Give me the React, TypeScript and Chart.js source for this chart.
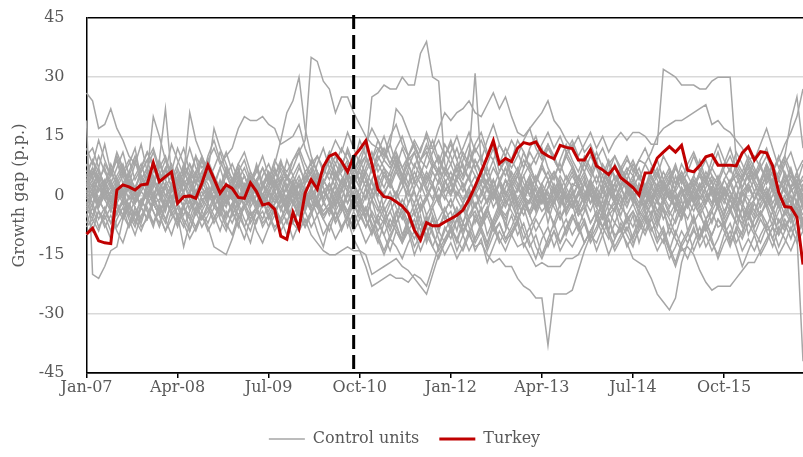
import React, { useEffect, useRef } from 'react';
import { Chart, registerables } from 'chart.js';

Chart.register(...registerables);

const MONTH_NAMES = ['Jan', 'Feb', 'Mar', 'Apr', 'May', 'Jun', 'Jul', 'Aug', 'Sep', 'Oct', 'Nov', 'Dec'];
const START_YEAR = 2007;
const N_MONTHS = 119; // Jan-07 .. Nov-16
const CATEGORIES: string[] = [];
for (let i = 0; i < N_MONTHS; i++) {
  const yr = START_YEAR + Math.floor(i / 12);
  CATEGORIES.push(`${MONTH_NAMES[i % 12]}-${String(yr % 100).padStart(2, '0')}`);
}
const TICK_EVERY = 15; // Jan-07, Apr-08, Jul-09, ...
const Y_MIN = -45;
const Y_MAX = 45;
const Y_STEP = 15;
const TREATMENT_INDEX = 44; // Sep-10

const TURKEY = [
  -9.8, -8.3, -11.5, -12.0, -12.2, 1.4, 2.7, 2.2, 1.4, 2.7,
  2.9, 8.3, 3.5, 4.8, 6.0, -2.0, -0.3, -0.1, -0.7, 3.1,
  7.7, 4.2, 0.6, 2.7, 1.8, -0.5, -0.7, 3.2, 1.0, -2.4,
  -2.0, -3.5, -10.3, -11.1, -4.3, -8.3, 0.6, 4.0, 1.6, 7.3,
  10.0, 10.7, 8.6, 6.0, 9.8, 11.7, 13.9, 8.0, 1.5, -0.3,
  -0.6, -1.6, -2.7, -4.5, -8.8, -11.3, -6.9, -7.7, -7.7, -6.7,
  -5.9, -5.0, -3.7, -1.0, 2.4, 6.0, 9.8, 13.9, 8.1, 9.4,
  8.6, 12.0, 13.4, 13.0, 13.6, 11.0, 10.0, 9.3, 12.7, 12.2,
  11.9, 9.0, 9.0, 11.6, 7.5, 6.5, 5.3, 7.3, 4.5, 3.3,
  2.0, 0.1, 5.7, 5.8, 9.5, 11.0, 12.4, 11.0, 12.7, 6.4,
  6.0, 7.6, 9.8, 10.3, 7.7, 7.7, 7.7, 7.5, 10.8, 12.4,
  9.0, 11.1, 10.8, 7.5, 0.8, -2.8, -3.0, -5.5, -17.5,
];

const CONTROL_01 = [
  26, 24, 17, 18, 22, 17, 14, 10, 8, 6, 9, 12, 7, 10, 5, 3, 8, 4, 6, 2,
  5, 1, 3, -2, 0, 4, 1, 3, -3, 0, -2, 3, 0, 5, 2, -3, 1, 4, 2, -1,
  3, -2, 4, 1, -3, 2, 6, 3, 0, 5, 4, -1, 2, 6, 1, -4, 0, 3, 7, 2,
  0, 5, 3, -2, 1, 4, 2, -3, 0, 4, 2, 5, 0, -2, 3, 7, 4, 6, 1, -1,
  3, 2, 5, 0, -3, 1, 4, -1, 3, 2, -2, 3, 0, 2, 5, 3, -1, -3, 2, 0,
  4, 1, 3, 2, -2, 0, 3, 5, 1, -3, -1, 2, 5, 3, 0, -2, 1, 3, -1,
];
const CONTROL_02 = [
  19, -20, -21, -18, -14, -13, -6, -3, -7, -2, 0, -4, -8, -3, -1, -6, -2, -9, -4, -1,
  -3, -6, -2, -5, -3, 0, -2, -6, -3, -1, -5, -2, 0, -4, -7, -3, -1, -4, -2, -5,
  -3, -6, -2, -8, -4, -1, -6, -9, -5, -7, -4, -8, -11, -6, -9, -5, -12, -8, -6, -3,
  -7, -4, -9, -5, -2, -6, -3, -8, -5, -1, -4, -7, -2, -5, -9, -6, -3, -8, -4, -10,
  -6, -3, -7, -11, -5, -8, -4, -2, -6, -9, -5, -12, -7, -4, -8, -3, -6, -10, -5, -2,
  -7, -4, -9, -6, -3, -8, -11, -5, -7, -4, -8, -5, -2, -6, -9, -4, -7, -3, -6,
];
const CONTROL_03 = [
  4, 7, 3, 8, 5, 10, 6, 9, 4, 7, 11, 8, 5, 9, 6, 12, 8, 5, 10, 7,
  9, 12, 8, 10, 12, 17, 20, 19, 19, 20, 18, 17, 13, 14, 15, 18, 12, 8, 10, 6,
  9, 5, 8, 11, 7, 4, 9, 6, 10, 7, 5, 8, 4, 9, 11, 6, 3, 7, 10, 5,
  8, 12, 7, 4, 9, 6, 10, 13, 8, 5, 9, 6, 11, 7, 4, 8, 12, 9, 6, 10,
  7, 4, 8, 5, 9, 3, 6, 10, 7, 4, 8, 5, 2, 6, 9, 4, 7, 3, 8, 5,
  2, 6, 9, 5, 3, 7, 10, 6, 4, 8, 5, 9, 12, 7, 4, 8, 11, 6, 9,
];
const CONTROL_04 = [
  -3, 1, -2, 2, -4, 0, 3, -1, 1, -3, 2, -1, 4, 0, -2, 3, 1, -4, 0, 2,
  -1, 3, 0, -3, 2, 5, 1, -2, 3, 0, 4, 8, 14, 21, 24, 30, 17, 10, 6, 2,
  -1, -4, -8, -6, -11, -14, -18, -23, -22, -21, -20, -21, -21, -22, -20, -21, -23, -18, -13, -9,
  -6, -3, -7, -2, 1, -4, -1, 2, -3, 0, 3, -2, 1, -5, -1, 2, -3, 0, 4, -2,
  1, -4, 0, 3, -1, -5, 2, -2, 1, 4, 0, -3, 2, -1, -6, -2, 1, -4, 0, 3,
  -2, 1, 4, 0, -3, 2, -1, -5, 1, 3, -1, 2, -3, 0, 4, 1, -2, 3, 0,
];
const CONTROL_05 = [
  2, 5, 1, 4, -1, 3, 6, 2, -2, 1, 4, 0, 3, 7, 2, -1, 4, 1, 5, 2,
  0, 4, 1, -2, 3, 6, 2, -1, 4, 7, 3, 5, 8, 6, 9, 11, 14, 35, 34, 29,
  27, 21, 25, 25, 21, 18, 15, 13, 12, 9, 7, 10, 5, 8, 3, 6, 2, -1, 4, 0,
  -3, 1, -2, -6, -4, -8, -5, -9, -7, -11, -10, -13, -12, -15, -18, -17, -18, -18, -18, -16,
  -16, -15, -12, -9, -6, -8, -4, -7, -3, -5, -2, -6, -3, 0, -4, -1, -5, -2, 1, -3,
  0, -4, -1, 2, -2, -5, 0, -3, 1, -1, -4, 0, -2, 2, -1, -5, -2, 1, -3,
];
const CONTROL_06 = [
  -2, -5, -1, -4, 0, -3, -6, -2, -5, -1, -4, -7, -3, -6, -2, -5, -8, -4, -1, -6,
  -3, -7, -4, -8, -5, -2, -6, -9, -4, -7, -5, -8, -6, -3, -7, -9, -6, -10, -12, -14,
  -15, -15, -14, -13, -14, -14, -15, -20, -19, -18, -17, -16, -18, -19, -21, -23, -25, -20, -15, -12,
  -9, -11, -7, -10, -6, -8, -4, -7, -3, -5, -2, -6, -3, -1, -4, 0, -3, 2, -1, -4,
  1, -2, 3, 0, -3, 2, 5, 1, 4, 7, 5, 9, 8, 11, 15, 17, 18, 19, 19, 20,
  21, 22, 23, 18, 19, 17, 16, 14, 12, 9, 10, 7, 4, 6, 2, 5, 1, 3, 0,
];
const CONTROL_07 = [
  5, 2, 6, 3, 8, 4, 1, 5, 9, 3, 6, 2, 8, 4, 1, 7, 3, 5, 0, 4,
  7, 3, 1, 5, 2, 6, 9, 4, 7, 3, 6, 2, 8, 5, 3, 7, 4, 9, 6, 3,
  7, 10, 6, 9, 5, 8, 10, 25, 26, 28, 27, 27, 30, 28, 28, 36, 39, 30, 29, 8,
  4, 7, 2, 5, 0, 3, -2, 1, -4, -1, 2, -3, 0, -5, -2, 1, -4, -1, -6, -3,
  -1, -5, -2, -7, -4, -8, -5, -3, -9, -6, -4, -7, -10, -6, -9, -12, -8, -11, -14, -13,
  -15, -19, -22, -24, -23, -23, -23, -21, -19, -17, -17, -14, -11, -8, -10, -6, -9, -4, -7,
];
const CONTROL_08 = [
  0, 3, -2, 1, 4, -1, 2, 6, 1, -3, 2, 5, 0, 3, -1, 4, 7, 2, 0, 5,
  3, -1, 2, 6, 1, 4, 0, 3, 7, 2, 5, 1, 4, -2, 3, 0, 5, 2, -1, 4,
  1, 6, 3, 8, 4, 7, 10, 6, 9, 12, 8, 11, 7, 10, 13, 9, 12, 12, 17, 21,
  19, 21, 22, 24, 21, 20, 23, 26, 22, 25, 20, 16, 15, 17, 19, 21, 24, 19, 17, 14,
  12, 15, 11, 13, 9, 12, 8, 10, 6, 9, 7, 4, 8, 5, 2, 6, 3, 7, 4, 1,
  5, 2, 6, 3, 0, 4, 7, 3, 5, 8, 4, 7, 10, 6, 9, 13, 16, 20, 27,
];
const CONTROL_09 = [
  -5, -2, -6, -3, -7, -4, -1, -5, -8, -3, -6, -2, -5, -9, -4, -7, -3, -6, -1, -4,
  -7, -3, -5, -1, -4, -8, -2, -5, -3, -6, -2, -5, -1, -4, -7, -3, 0, -4, -2, -6,
  -3, 1, -2, -5, 0, -3, 2, -1, -4, 1, 3, 0, 4, -2, 2, 5, 1, 6, 3, 7,
  4, 8, 5, 10, 31, 8, 5, 9, 4, 7, 3, 6, 1, 5, -1, 3, 0, -2, 2, -4,
  -1, -5, -3, -7, -4, -8, -6, -10, -9, -12, -16, -17, -18, -21, -25, -27, -29, -26, -17, -12,
  -9, -11, -7, -10, -6, -8, -4, -7, -3, -6, -2, -5, -1, -4, 0, -3, -6, -2, -5,
];
const CONTROL_10 = [
  1, -2, 3, 0, -3, 2, -1, 4, 0, -2, 3, -1, 1, -4, 2, 0, -3, 1, 4, -1,
  0, 3, -2, 1, -5, -1, 2, -3, 0, 3, -2, 1, -4, 0, 2, -3, 1, -1, -5, -2,
  -4, 0, -3, -6, -2, -5, -8, -4, -7, -10, -6, -9, -12, -8, -11, -7, -10, -13, -9, -12,
  -8, -11, -14, -10, -13, -12, -15, -17, -16, -18, -18, -21, -23, -24, -26, -26, -38, -25, -25, -25,
  -24, -19, -14, -10, -12, -8, -11, -7, -9, -5, -8, -4, -6, -2, -5, -1, -4, -7, -3, -6,
  -2, -5, -8, -4, -1, -6, -3, -7, -10, -5, -8, -4, -7, -11, -6, -9, -5, -10, -42,
];
const CONTROL_11 = [
  8, 4, 7, 2, 5, 9, 3, 6, 10, 5, 2, 6, 9, 4, 7, 1, 5, 8, 3, 6,
  9, 5, 2, 7, 4, 8, 11, 6, 3, 7, 4, 9, 6, 2, 5, 8, 3, 6, 10, 7,
  11, 8, 12, 9, 6, 10, 13, 9, 14, 11, 8, 12, 15, 10, 13, 9, 7, 11, 14, 10,
  13, 9, 12, 16, 11, 14, 10, 13, 8, 12, 9, 14, 11, 7, 10, 13, 16, 12, 15, 11,
  14, 10, 13, 16, 12, 15, 11, 14, 16, 14, 16, 16, 15, 13, 13, 32, 31, 30, 28, 28,
  28, 27, 27, 29, 30, 30, 30, 9, 6, 10, 7, 3, 8, 5, 1, 6, 2, 4, -1,
];
const CONTROL_12 = [
  -4, 0, -3, 1, -2, -5, -1, -4, -7, -3, -6, -2, -5, -1, -4, -8, -3, -6, -9, -5,
  -8, -13, -14, -15, -11, -6, -3, -7, -4, -1, -5, -2, 1, -3, 0, -4, -1, 2, -2, 1,
  3, 0, 4, 1, 5, 2, 6, 9, 12, 10, 13, 22, 20, 16, 12, 9, 11, 7, 10, 6,
  3, 7, 4, 8, 5, 1, 4, 0, 3, -2, 1, -3, 0, 4, -1, 2, -4, -1, 3, 0,
  -3, 1, -2, 2, -1, -5, 0, 3, -2, 1, 4, 0, -3, 2, -1, 3, 6, 1, 4, 0,
  3, -1, 2, 5, 1, -2, 3, 6, 2, 5, 1, 4, 8, 3, 6, 10, 19, 25, 12,
];
const CONTROL_13 = [
  10, 12, 7, 13, 6, 9, 5, 8, 12, 4, 7, 3, 9, 22, 5, 6, 1, 4, 10, 2,
  5, 3, 1, 7, 4, 6, -1, 2, 8, 3, 1, -2, 4, 5, 0, 3, -4, 2, 6, -1,
  3, -3, 1, 5, -2, 0, -6, -1, 4, -4, -1, -7, -3, 2, -5, -2, -8, -3, 0, -6,
  -4, -9, -2, 1, -7, -3, -10, -6, -2, -8, 0, -6, -2, 4, -4, 1, -7, -1, 2, -5,
  -2, -8, -4, 1, -6, -1, -9, -3, 0, -7, -4, -8, -5, -2, -7, -3, -10, -6, -1, -9,
  -5, -11, -6, -4, -8, -7, -12, -9, -3, -10, -6, -4, -9, -7, -2, -8, -5, -1, -7,
];
const CONTROL_14 = [
  -8, -6, -9, -4, -7, -2, -5, -8, -3, -6, -1, -4, -7, -2, 0, -5, -3, 1, -2, -6,
  -4, 0, -3, 2, -1, -5, -2, 1, 4, 0, -3, 2, 5, 1, -2, 3, 0, -4, -1, 3,
  6, 2, -1, 4, 8, 3, 7, 11, 6, 9, 13, 8, 5, 10, 7, 12, 15, 9, 6, 11,
  8, 4, 9, 13, 7, 10, 5, 2, 6, 9, 4, 1, 5, 8, 3, 0, 4, -2, 1, 5,
  2, -3, 0, 4, -1, 3, -4, -1, 2, -2, 1, -5, -2, 3, -1, -6, -3, 0, -4, 2,
  -1, -5, -2, 1, -3, -7, -4, -1, -6, -2, -5, 0, -3, -8, -4, -1, -6, -3, -9,
];
const CONTROL_15 = [
  3, 0, 5, 1, -2, 4, 7, 2, -1, 3, 0, 4, 2, -3, 1, 5, 0, -2, 3, 6,
  1, -1, 4, 0, -4, 2, 5, 1, -3, 2, 6, 3, -1, 2, -2, 1, 4, 7, 3, -2,
  1, 5, 9, 4, 0, -3, 2, -5, -9, -6, -11, -7, -4, -8, -13, -10, -6, -9, -14, -11,
  -8, -12, -7, -10, -5, -9, -13, -8, -4, -7, -10, -6, -3, -8, -5, -1, -4, -7, -2, 0,
  -3, 1, -2, 2, 5, 1, -2, 3, 6, 2, -1, 3, 0, 4, 7, 2, -1, 5, 1, -3,
  2, 6, 1, -2, 4, 0, 3, -1, 5, 8, 4, 1, 6, 2, -2, 3, 7, 2, 5,
];
const CONTROL_16 = [
  -1, 2, -3, 0, 3, -2, 1, -5, -1, 2, 5, 1, -2, 3, -1, 2, 6, 3, -1, 1,
  -2, 3, 7, 2, -1, 4, 1, 5, 2, -2, 1, 4, 0, -3, 2, -1, 3, 6, 2, 5,
  9, 4, 1, 6, 2, -2, -5, -1, -7, -3, -8, -4, -10, -6, -2, -7, -11, -5, -9, -4,
  -1, -5, -2, 2, -3, 0, 4, -1, 3, 7, 2, 5, 9, 6, 3, 8, 4, 1, 5, 2,
  -1, 3, 6, 2, -2, 1, 4, 0, -3, 2, 5, 1, -2, -5, -1, -4, -8, -3, -6, -2,
  1, -3, 0, 4, -2, 2, -1, -4, 0, 3, -1, 2, 5, 1, -3, 0, -4, 2, 4,
];
const CONTROL_17 = [
  6, 9, 4, 7, 2, 5, 8, 3, 0, 4, 7, 11, 6, 2, 5, 1, 4, 8, 5, 9,
  4, 7, 11, 6, 3, 8, 5, 1, 4, 0, 3, 7, 2, -1, 4, 0, -3, 1, 5, 2,
  -2, 3, 7, 12, 8, 14, 10, 6, 11, 15, 10, 7, 12, 8, 4, 9, 13, 8, 5, 10,
  14, 9, 5, 11, 7, 3, 8, 12, 6, 10, 5, 2, 7, 11, 8, 12, 7, 4, 9, 13,
  9, 6, 10, 7, 3, 8, 5, 1, 6, 3, -1, 2, -2, 3, 6, 1, 4, -1, 2, -3,
  0, 3, -2, 2, -1, 4, 1, -3, 2, 6, 3, 0, 4, 8, 4, 1, 5, 2, -2,
];
const CONTROL_18 = [
  -5, -9, -4, -7, -11, -6, -3, -8, -5, -1, -4, -8, -2, -6, -10, -5, -13, -7, -3, -6,
  -2, -5, -9, -4, -7, -3, -8, -12, -6, -4, -8, -3, -6, -10, -5, -2, -7, -4, -9, -13,
  -7, -4, -9, -5, -2, -6, -3, -8, -12, -7, -4, -1, -5, -9, -6, -11, -7, -3, -8, -5,
  -9, -14, -10, -6, -11, -7, -3, -8, -12, -9, -5, -10, -7, -12, -16, -11, -8, -13, -9, -6,
  -10, -7, -12, -9, -14, -10, -6, -11, -8, -13, -10, -6, -9, -5, -11, -8, -13, -17, -12, -9,
  -14, -10, -6, -11, -16, -12, -9, -13, -18, -14, -10, -15, -12, -8, -13, -9, -5, -10, -7,
];
const CONTROL_19 = [
  2, 6, 3, -1, 1, 4, 0, 3, -2, 1, -1, 3, 0, -4, 2, -1, 1, 5, 1, -3,
  0, 2, -3, 1, 4, -1, 3, 0, -2, 2, 5, 1, -2, 3, 0, 4, 1, -3, 2, -1,
  3, 0, -4, 1, 5, 2, -1, 4, 8, 5, 2, 6, 3, 7, 11, 7, 4, 8, 5, 1,
  4, 0, 3, -1, 2, 6, 3, 7, 4, 0, 3, -1, 2, 5, 1, -2, 2, 5, 8, 4,
  7, 3, 0, 4, 1, 5, 9, 4, 7, 10, 6, 9, 12, 8, 5, 10, 7, 3, 6, 2,
  5, 9, 4, 7, 11, 6, 3, 8, 5, 1, 4, 8, 3, 6, 10, 5, 2, 6, 1,
];
const CONTROL_20 = [
  -3, -6, -1, -4, 1, -2, -5, 0, -3, -7, -2, 0, -4, -1, 3, -2, -5, -1, -4, 0,
  2, -2, -5, -1, 1, -3, 0, -4, -7, -2, 0, -4, -1, 2, -2, -5, -2, 1, -3, -6,
  -9, -4, -1, -5, -8, -3, -6, -10, -5, -2, 1, -3, -6, -2, 1, -4, -1, 3, -2, -5,
  -8, -4, -7, -3, 1, -2, 2, -1, 4, 1, -2, 2, 5, 0, -3, 1, -1, 3, 0, -4,
  -1, -5, -2, 1, -3, -6, -2, -4, 0, -3, 1, -2, 3, 0, -4, -1, 2, -3, -6, -1,
  -4, 0, -3, -7, -2, -5, -1, -4, -8, -3, -6, -2, 1, -3, -7, -4, 0, -5, -2,
];
const CONTROL_21 = [
  8, 5, 10, 6, 3, 7, 11, 5, 2, 6, 9, 4, 1, 5, 8, 3, 6, 12, 7, 4,
  10, 14, 9, 5, 8, 4, 7, 3, 6, 10, 5, 2, 7, 4, 9, 12, 8, 5, 3, 7,
  4, 8, 5, 2, 6, 9, 5, 1, 4, 7, 3, 0, 5, 1, -2, 2, 6, 3, -1, 4,
  1, 5, 8, 4, 1, 6, 2, -1, 3, 0, 4, 7, 3, 0, 5, 2, -2, 1, -3, 2,
  5, 2, -1, 3, 0, -4, 1, -2, 3, 6, 2, 5, 1, -2, 2, -1, 4, 8, 3, 6,
  10, 6, 3, 7, 4, 8, 12, 7, 4, 9, 6, 3, 7, 2, 5, 9, 4, 1, -8,
];
const CONTROL_22 = [
  -7, -3, -8, -5, -9, -4, -2, -6, -10, -5, -3, -7, -4, -1, -5, -2, -6, -9, -4, -8,
  -5, -1, -6, -9, -4, -7, -11, -6, -3, -8, -5, -9, -6, -2, -7, -4, -8, -5, -1, -4,
  -2, -6, -3, 1, -4, -8, -12, -9, -6, -10, -14, -9, -12, -7, -4, -9, -5, -10, -13, -8,
  -11, -6, -3, -8, -12, -9, -14, -10, -7, -11, -8, -4, -9, -13, -10, -15, -11, -7, -12, -9,
  -5, -9, -6, -11, -8, -4, -9, -13, -10, -6, -11, -7, -4, -8, -12, -9, -14, -18, -13, -10,
  -6, -11, -8, -12, -15, -10, -7, -12, -9, -5, -9, -12, -8, -4, -10, -7, -11, -6, -3,
];
const CONTROL_23 = [
  12, 8, 14, 9, 5, 11, 7, 3, 8, 13, 6, 20, 15, 9, 4, 8, 12, 6, 3, 9,
  5, 2, 7, 11, 6, 2, 5, 1, -2, 3, 0, 4, -1, -4, 1, -2, 2, -3, 0, 4,
  1, -3, 2, 6, 3, 7, 4, 1, 5, 2, 6, 10, 7, 3, 8, 5, 10, 14, 9, 6,
  11, 15, 10, 7, 12, 9, 14, 18, 13, 10, 14, 11, 7, 12, 15, 10, 13, 9, 6, 11,
  8, 4, 9, 6, 11, 7, 3, 8, 5, 1, 4, 7, 2, 5, 0, 3, -1, 2, 6, 3,
  -1, 2, 5, 1, -3, 1, 4, 0, -2, 3, 6, 2, -1, 4, 1, -3, 2, 5, 1,
];
const CONTROL_24 = [
  0, -3, 2, -1, -4, 1, -2, 3, 0, -3, 1, -2, 2, -1, -4, 0, 3, -1, -5, -2,
  1, -3, 0, -6, -2, 1, -3, -1, 2, -2, -4, 0, -3, -7, -2, -5, -8, -4, -1, -5,
  -3, -7, -4, 0, 3, -1, -4, 1, -3, -6, -2, 1, -3, -7, -4, 0, -5, -2, 2, -1,
  3, -1, -4, 0, -3, 1, -2, 4, 0, -3, 1, -2, -5, -1, 2, -2, 1, -3, -6, -2,
  0, 3, -1, -4, 0, -3, 1, 5, 2, -1, 3, 0, -3, 1, -2, 2, 5, 1, -3, 0,
  4, 1, -2, 2, 5, 1, -3, 0, 4, 7, 3, -1, 2, -2, 1, 5, 2, -2, 3,
];
const CONTROL_25 = [
  4, 1, -2, 2, 6, 3, -1, 2, 5, 8, 3, 0, 4, 7, 2, -1, 3, 0, 6, 10,
  6, 2, -1, 3, 0, -3, 1, 4, 0, 5, 8, 4, 1, -2, 2, 5, 1, -1, 3, 7,
  11, 6, 2, -2, 1, -4, 0, 4, -1, -5, -9, -5, -1, -4, -8, -3, 0, -5, -9, -4,
  -1, -5, -9, -6, -2, -7, -4, 1, -3, -6, -2, 2, -1, -4, 0, 3, 6, 2, -1, 3,
  6, 2, -1, 4, 8, 5, 1, 3, 7, 4, 0, -3, 1, 5, 2, -2, 1, -1, -5, -1,
  2, -2, -6, -3, 1, -4, -1, 3, -2, -5, -1, 3, 0, -4, 1, 4, -2, 1, -3,
];
const CONTROL_26 = [
  -10, -7, -4, -8, -5, -9, -12, -7, -4, -8, -6, -2, -5, -9, -6, -3, -7, -11, -8, -5,
  -9, -6, -3, -7, -10, -5, -8, -4, -9, -12, -8, -5, -9, -6, -11, -7, -4, -8, -5, -10,
  -7, -11, -8, -5, -9, -6, -3, -7, -11, -15, -11, -13, -16, -12, -9, -14, -10, -6, -11, -15,
  -12, -16, -13, -9, -14, -11, -17, -13, -9, -12, -9, -6, -11, -8, -13, -16, -12, -9, -14, -11,
  -13, -10, -7, -12, -9, -5, -10, -14, -11, -8, -12, -9, -6, -10, -14, -11, -16, -13, -9, -12,
  -8, -13, -10, -14, -11, -7, -12, -9, -14, -11, -14, -10, -7, -11, -15, -12, -8, -12, -9,
];
const CONTROL_27 = [
  1, 4, -1, 3, 7, 2, 5, 1, -2, 2, 5, 8, 3, 0, 2, -2, 1, 4, -1, 3,
  6, 2, -1, 3, 0, -2, 2, 5, 1, -1, 2, 6, 3, 9, 5, 2, 6, 3, 8, 12,
  7, 4, 8, 5, 3, 0, 4, -1, 2, 6, 3, 7, 3, 0, 4, 1, 5, 2, -2, 3,
  6, 2, -1, 2, 5, 3, 7, 2, -1, 4, 0, -4, -1, 3, -1, -4, -2, 2, -2, 1,
  -3, 0, 4, -2, 1, -3, 2, -1, -5, 0, 3, 0, -4, -1, 3, 0, -3, 2, 5, 1,
  -2, 3, 0, -3, 2, -1, 1, -2, -6, -2, 1, -3, 0, 4, -1, 2, -2, -6, -1,
];
const CONTROL_28 = [
  3, 7, 4, 0, 2, -1, 1, -3, 2, 5, 1, -2, -1, 2, -3, 0, -1, -3, 1, 4,
  0, -2, -4, 0, -1, 3, -1, 2, -2, -3, 1, -1, -3, 0, 3, -2, -4, 0, 2, -1,
  -5, -1, 2, -2, 3, 6, 2, 7, 3, 0, 4, 9, 5, 2, 6, 3, -1, 3, 7, 4,
  0, 4, 1, 5, 9, 5, 1, 4, -2, 2, 6, 3, -1, 2, -3, -1, 2, 6, 3, -1,
  2, 5, 1, -2, 2, -1, 3, 0, -3, 1, -1, -4, 0, -2, 1, 4, 0, -3, 2, -2,
  2, 5, 1, -2, 3, -1, -4, 0, -3, 2, -1, 3, 0, -4, -1, 3, 6, 1, -2,
];
const CONTROL_29 = [
  -2, 1, -4, -6, -3, -8, -5, -2, -6, -9, -5, -1, -4, -7, -2, 1, -3, -5, -8, -4,
  -1, 1, -2, -5, -2, -6, -3, 0, -4, -1, -6, -3, -7, -4, -1, -5, -2, 0, -3, 1,
  -1, 3, -1, -4, 0, -4, -8, -5, -10, -14, -10, -7, -12, -9, -15, -11, -8, -13, -16, -12,
  -9, -6, -10, -14, -11, -8, -12, -7, -11, -14, -10, -7, -13, -10, -6, -9, -13, -9, -12, -8,
  -5, -8, -12, -9, -6, -10, -15, -11, -7, -10, -13, -8, -5, -9, -6, -10, -14, -9, -13, -16,
  -12, -8, -13, -10, -6, -9, -13, -8, -11, -7, -10, -6, -9, -13, -8, -11, -14, -10, -6,
];
const CONTROL_30 = [
  5, 9, 6, 2, -1, 3, 0, 4, 1, 7, 11, 7, 3, 6, 13, 9, 5, 21, 14, 10,
  6, 17, 12, 8, 4, 7, 2, 6, 3, -1, 2, 5, 9, 4, 7, 11, 6, 8, 4, 7,
  10, 14, 11, 16, 12, 8, 13, 17, 14, 10, 15, 18, 13, 10, 14, 11, 16, 12, 8, 13,
  10, 6, 11, 8, 13, 16, 11, 9, 13, 10, 7, 10, 14, 17, 12, 9, 13, 10, 6, 10,
  13, 9, 6, 10, 7, 3, 8, 5, 2, 6, 9, 5, 2, 7, 4, 0, 3, 7, 4, 8,
  11, 7, 4, 9, 13, 9, 6, 11, 8, 4, 9, 13, 17, 12, 7, 10, 6, 3, 8,
];

const CONTROLS = [
  CONTROL_01, CONTROL_02, CONTROL_03, CONTROL_04, CONTROL_05, CONTROL_06,
  CONTROL_07, CONTROL_08, CONTROL_09, CONTROL_10, CONTROL_11, CONTROL_12,
  CONTROL_13, CONTROL_14, CONTROL_15, CONTROL_16, CONTROL_17, CONTROL_18,
  CONTROL_19, CONTROL_20, CONTROL_21, CONTROL_22, CONTROL_23, CONTROL_24,
  CONTROL_25, CONTROL_26, CONTROL_27, CONTROL_28, CONTROL_29, CONTROL_30,
];

const GRAY = '#a6a6a6';
const RED = '#c00000';
const TEXT = '#595959';
const FONT = '"DejaVu Serif", "Liberation Serif", serif';

const treatmentLine = {
  id: 'treatmentLine',
  afterDatasetsDraw(chart: any) {
    const { ctx, chartArea, scales } = chart;
    const x = scales.x.getPixelForValue(TREATMENT_INDEX);
    ctx.save();
    ctx.beginPath();
    ctx.setLineDash([14, 6]);
    ctx.lineWidth = 3;
    ctx.strokeStyle = '#000';
    ctx.moveTo(x, chartArea.top - 3);
    ctx.lineTo(x, chartArea.bottom - 2);
    ctx.stroke();
    ctx.restore();
  },
};

export default function App() {
  const ref = useRef<HTMLCanvasElement | null>(null);

  useEffect(() => {
    document.body.style.margin = '0';
    const bad = [TURKEY, ...CONTROLS].map((s, k) => [k, s.length]).filter(([, n]) => n !== N_MONTHS);
    if (bad.length) throw new Error('Bad series lengths: ' + JSON.stringify(bad));
    if (!ref.current) return;

    Chart.defaults.font.family = FONT;
    Chart.defaults.font.size = 16;
    Chart.defaults.color = TEXT;

    const datasets: any[] = [
      {
        label: 'Turkey',
        data: TURKEY,
        borderColor: RED,
        backgroundColor: RED,
        borderWidth: 3,
        pointRadius: 0,
        tension: 0,
        order: 0,
      },
      ...CONTROLS.map((d) => ({
        label: 'Control units',
        data: d,
        borderColor: GRAY,
        backgroundColor: GRAY,
        borderWidth: 1.5,
        pointRadius: 0,
        tension: 0,
        order: 1,
      })),
    ];

    const chart = new Chart(ref.current, {
      type: 'line',
      data: { labels: CATEGORIES, datasets },
      options: {
        animation: false,
        responsive: true,
        maintainAspectRatio: false,
        layout: { padding: { left: 6, top: 18, right: 0, bottom: 0 } },
        plugins: {
          tooltip: { enabled: false },
          legend: {
            position: 'bottom',
            labels: {
              usePointStyle: true,
              pointStyle: 'line',
              pointStyleWidth: 36,
              padding: 20,
              color: TEXT,
              font: { size: 16, family: FONT },
              filter: (item: any) => item.datasetIndex <= 1,
              sort: (a: any, b: any) => (a.text === 'Turkey' ? 1 : 0) - (b.text === 'Turkey' ? 1 : 0),
            },
          },
        },
        scales: {
          x: {
            type: 'category',
            offset: false,
            grid: {
              display: true,
              drawOnChartArea: false,
              drawTicks: true,
              tickLength: 5,
              color: '#000',
              lineWidth: 1.5,
            },
            border: { display: true, color: '#000', width: 1.5 },
            ticks: {
              autoSkip: false,
              maxRotation: 0,
              minRotation: 0,
              padding: 0,
              color: TEXT,
              font: { size: 16, family: FONT },
              callback: (_v: any, index: number) => (index % TICK_EVERY === 0 ? CATEGORIES[index] : null),
            },
            afterFit: (scale: any) => {
              scale.height = 38;
            },
          },
          y: {
            min: Y_MIN,
            max: Y_MAX,
            ticks: { stepSize: Y_STEP, padding: 3, color: TEXT, font: { size: 16, family: FONT } },
            grid: {
              drawTicks: true,
              tickLength: 19,
              tickColor: 'rgba(0,0,0,0)',
              lineWidth: 1.5,
              color: (c: any) => (c.tick && (c.tick.value === Y_MAX || c.tick.value === Y_MIN) ? '#000' : '#d9d9d9'),
            },
            border: { color: '#000', width: 1.5 },
            title: { display: true, text: 'Growth gap (p.p.)', color: TEXT, font: { size: 16, family: FONT } },
            afterFit: (scale: any) => {
              scale.width = 80.5;
            },
          },
        },
      },
      plugins: [treatmentLine],
    });

    return () => chart.destroy();
  }, []);

  return (
    <div style={{ width: 803, height: 457, position: 'relative' }}>
      <canvas ref={ref} />
    </div>
  );
}
